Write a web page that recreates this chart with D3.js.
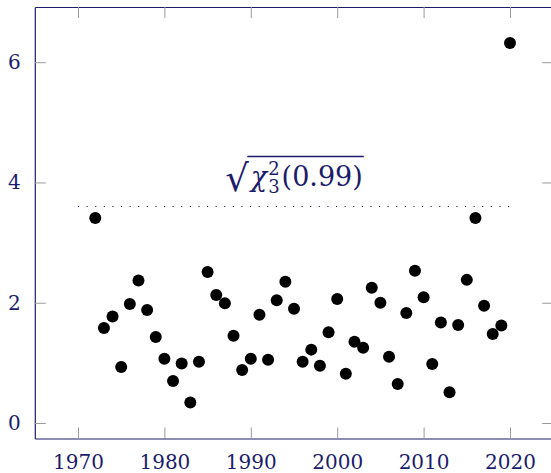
<!DOCTYPE html>
<html>
<head>
<meta charset="utf-8">
<script src="https://cdn.jsdelivr.net/npm/d3@7"></script>
<style>
  html, body { margin: 0; padding: 0; background: #ffffff; }
  svg { display: block; }
</style>
</head>
<body>
<script>
// Yearly distance values, 1972–2020
const years = [1972, 1973, 1974, 1975, 1976, 1977, 1978, 1979, 1980, 1981,
               1982, 1983, 1984, 1985, 1986, 1987, 1988, 1989, 1990, 1991,
               1992, 1993, 1994, 1995, 1996, 1997, 1998, 1999, 2000, 2001,
               2002, 2003, 2004, 2005, 2006, 2007, 2008, 2009, 2010, 2011,
               2012, 2013, 2014, 2015, 2016, 2017, 2018, 2019, 2020];
const values = [3.41, 1.58, 1.77, 0.93, 1.98, 2.37, 1.88, 1.43, 1.07, 0.70,
                0.99, 0.34, 1.02, 2.51, 2.13, 1.99, 1.45, 0.88, 1.07, 1.80,
                1.05, 2.04, 2.35, 1.90, 1.02, 1.22, 0.95, 1.51, 2.06, 0.82,
                1.35, 1.25, 2.25, 2.00, 1.10, 0.65, 1.83, 2.53, 2.09, 0.98,
                1.67, 0.51, 1.63, 2.38, 3.41, 1.95, 1.48, 1.62, 6.32];
const xTicks = [1970, 1980, 1990, 2000, 2010, 2020];
const yTicks = [0, 2, 4, 6];
// Cut-off level and the years it spans
const cutoffLevel = [3.6];
const cutoffYears = [1970, 2020];

const W = 551, H = 473;
const navy = "#1c1c6b";
const tickGrey = "#9a9a9a";
const serif = "DejaVu Serif";

const plotLeft = 34.8, plotRight = 553.2, plotTop = 7, plotBottom = 438.5;

const x = d3.scaleLinear().domain([1965, 2025]).range([plotLeft, plotRight]);
const y = d3.scaleLinear().domain([-0.258, 6.918]).range([plotBottom, plotTop]);

const svg = d3.select("body").append("svg")
  .attr("width", W).attr("height", H);

// Axes with inward ticks on all four sides
function styleAxis(g) {
  g.attr("font-family", serif).attr("font-size", 20);
  g.select(".domain").attr("stroke", navy).attr("stroke-width", 1.2);
  g.selectAll(".tick line").attr("stroke", tickGrey).attr("stroke-width", 1);
  g.selectAll(".tick text").attr("fill", navy);
}

svg.append("g")
  .attr("transform", `translate(0,${plotBottom})`)
  .call(d3.axisBottom(x).tickValues(xTicks).tickFormat(d3.format("d"))
    .tickSizeInner(-11).tickSizeOuter(0).tickPadding(16))
  .call(styleAxis);

svg.append("g")
  .attr("transform", `translate(0,${plotTop})`)
  .call(d3.axisTop(x).tickValues(xTicks).tickFormat("")
    .tickSizeInner(-11).tickSizeOuter(0))
  .call(styleAxis);

svg.append("g")
  .attr("transform", `translate(${plotLeft},0)`)
  .call(d3.axisLeft(y).tickValues(yTicks).tickFormat(d3.format("d"))
    .tickSizeInner(-11).tickSizeOuter(0).tickPadding(14))
  .call(styleAxis);

svg.append("g")
  .attr("transform", `translate(${plotRight},0)`)
  .call(d3.axisRight(y).tickValues(yTicks).tickFormat("")
    .tickSizeInner(-11).tickSizeOuter(0))
  .call(styleAxis);

// Dotted cut-off line
svg.append("line")
  .attr("x1", x(cutoffYears[0])).attr("x2", x(cutoffYears[1]))
  .attr("y1", y(cutoffLevel[0])).attr("y2", y(cutoffLevel[0]))
  .attr("stroke", navy).attr("stroke-width", 1.1)
  .attr("stroke-dasharray", "1.1 7.5");

// Label: sqrt(chi^2_3(0.99)) as one text with raised and lowered indices
const supSize = 18, mainSize = 27;
const label = svg.append("text")
  .attr("fill", navy)
  .attr("font-family", serif)
  .attr("font-size", mainSize)
  .attr("y", 186);
label.append("tspan").attr("font-size", 37).attr("dy", 5).text("\u221A");
label.append("tspan").attr("font-style", "italic").attr("dy", -5).attr("dx", 2).text("\u03C7");
const supT = label.append("tspan").attr("font-size", supSize).attr("dy", -11).attr("dx", 1).text("2");
const supW = supT.node().getComputedTextLength();
label.append("tspan").attr("font-size", supSize).attr("dy", 18).attr("dx", -supW).text("3");
label.append("tspan").attr("dy", -7).attr("dx", 2).text("(0.99)");

const lb = label.node().getBBox();
const midX = (x(cutoffYears[0]) + x(cutoffYears[1])) / 2;
label.attr("x", midX - lb.width / 2);
const radBox = label.node().getExtentOfChar(0);
const fullBox = label.node().getBBox();
svg.append("line")
  .attr("x1", radBox.x + radBox.width - 1.5)
  .attr("x2", fullBox.x + fullBox.width + 1)
  .attr("y1", 156.5).attr("y2", 156.5)
  .attr("stroke", navy).attr("stroke-width", 1.3);

// Yearly points
svg.append("g")
  .selectAll("circle")
  .data(years.map((yr, i) => ({ yr, v: values[i] })))
  .join("circle")
  .attr("cx", d => x(d.yr))
  .attr("cy", d => y(d.v))
  .attr("r", 6)
  .attr("fill", "#000");
</script>
</body>
</html>
